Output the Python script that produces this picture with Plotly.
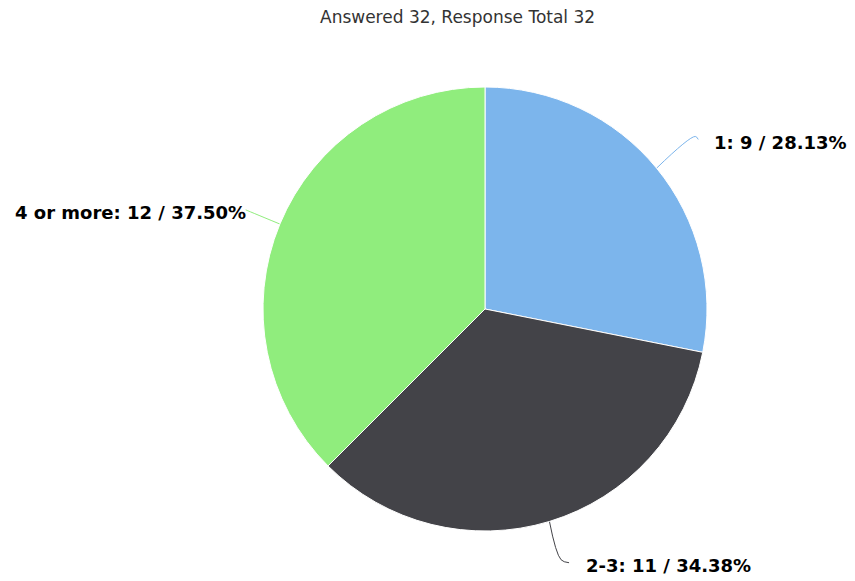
import math
from decimal import Decimal, ROUND_HALF_UP
import plotly.graph_objects as go

categories = ["1", "2-3", "4 or more"]
counts = [9, 11, 12]
colors = ["#7cb5ec", "#434348", "#90ed7d"]
title_text = "Answered 32, Response Total 32"

# page offset: the browser body has an 8px margin
OFF = 8
W, H = 847, 573
cx, cy, R = 485 - OFF, 309 - OFF, 222

# connector geometry per slice (radial extension, horizontal run, text gap)
conn_d = [50, 40, 37]
conn_h = [3, 8, 0]
conn_g = [14, 15, -2]

total = sum(counts)


def pct(c):
    return Decimal(c * 100) / Decimal(total)


labels = [f"{cat}: {c} / {pct(c).quantize(Decimal('0.01'), rounding=ROUND_HALF_UP)}%"
          for cat, c in zip(categories, counts)]

fig = go.Figure()
fig.add_trace(go.Pie(
    labels=categories, values=counts, sort=False, direction="clockwise", rotation=0,
    marker=dict(colors=colors, line=dict(color="white", width=1)),
    textinfo="none", hoverinfo="label+value+percent", showlegend=False,
    domain=dict(x=[(cx - R) / W, (cx + R) / W], y=[(H - (cy + R)) / H, (H - (cy - R)) / H]),
))

annotations = [dict(text=title_text, x=457 - OFF, y=17 - OFF, xref="x", yref="y", showarrow=False,
                    font=dict(family="DejaVu Sans", size=17, color="#333333"))]
start = 0.0
for lab, c, col, d, h, g in zip(labels, counts, colors, conn_d, conn_h, conn_g):
    frac = c / total
    mid = (start + frac / 2) * 2 * math.pi
    start += frac
    dx, dy = math.sin(mid), -math.cos(mid)
    p0 = (cx + R * dx, cy + R * dy)
    p1 = (cx + (R + d) * dx, cy + (R + d) * dy)
    side = 1 if dx >= 0 else -1
    p2 = (p1[0] + side * h, p1[1] + (3 if h else 0))
    fig.add_trace(go.Scatter(x=[p0[0], p1[0], p2[0]], y=[p0[1], p1[1], p2[1]], mode="lines",
                             line=dict(color=col, width=1, shape="spline"), hoverinfo="skip",
                             showlegend=False))
    annotations.append(dict(text=f"<b>{lab}</b>", x=p2[0] + side * g, y=p2[1] + 3, xref="x", yref="y",
                            xanchor="left" if side > 0 else "right", yanchor="middle",
                            showarrow=False,
                            font=dict(family="DejaVu Sans", size=18, color="#000000")))

fig.update_layout(
    width=W, height=H, margin=dict(l=0, r=0, t=0, b=0),
    paper_bgcolor="white", plot_bgcolor="rgba(0,0,0,0)",
    xaxis=dict(range=[0, W], visible=False, fixedrange=True),
    yaxis=dict(range=[H, 0], visible=False, fixedrange=True),
    annotations=annotations,
)
fig.write_html("out.html")
